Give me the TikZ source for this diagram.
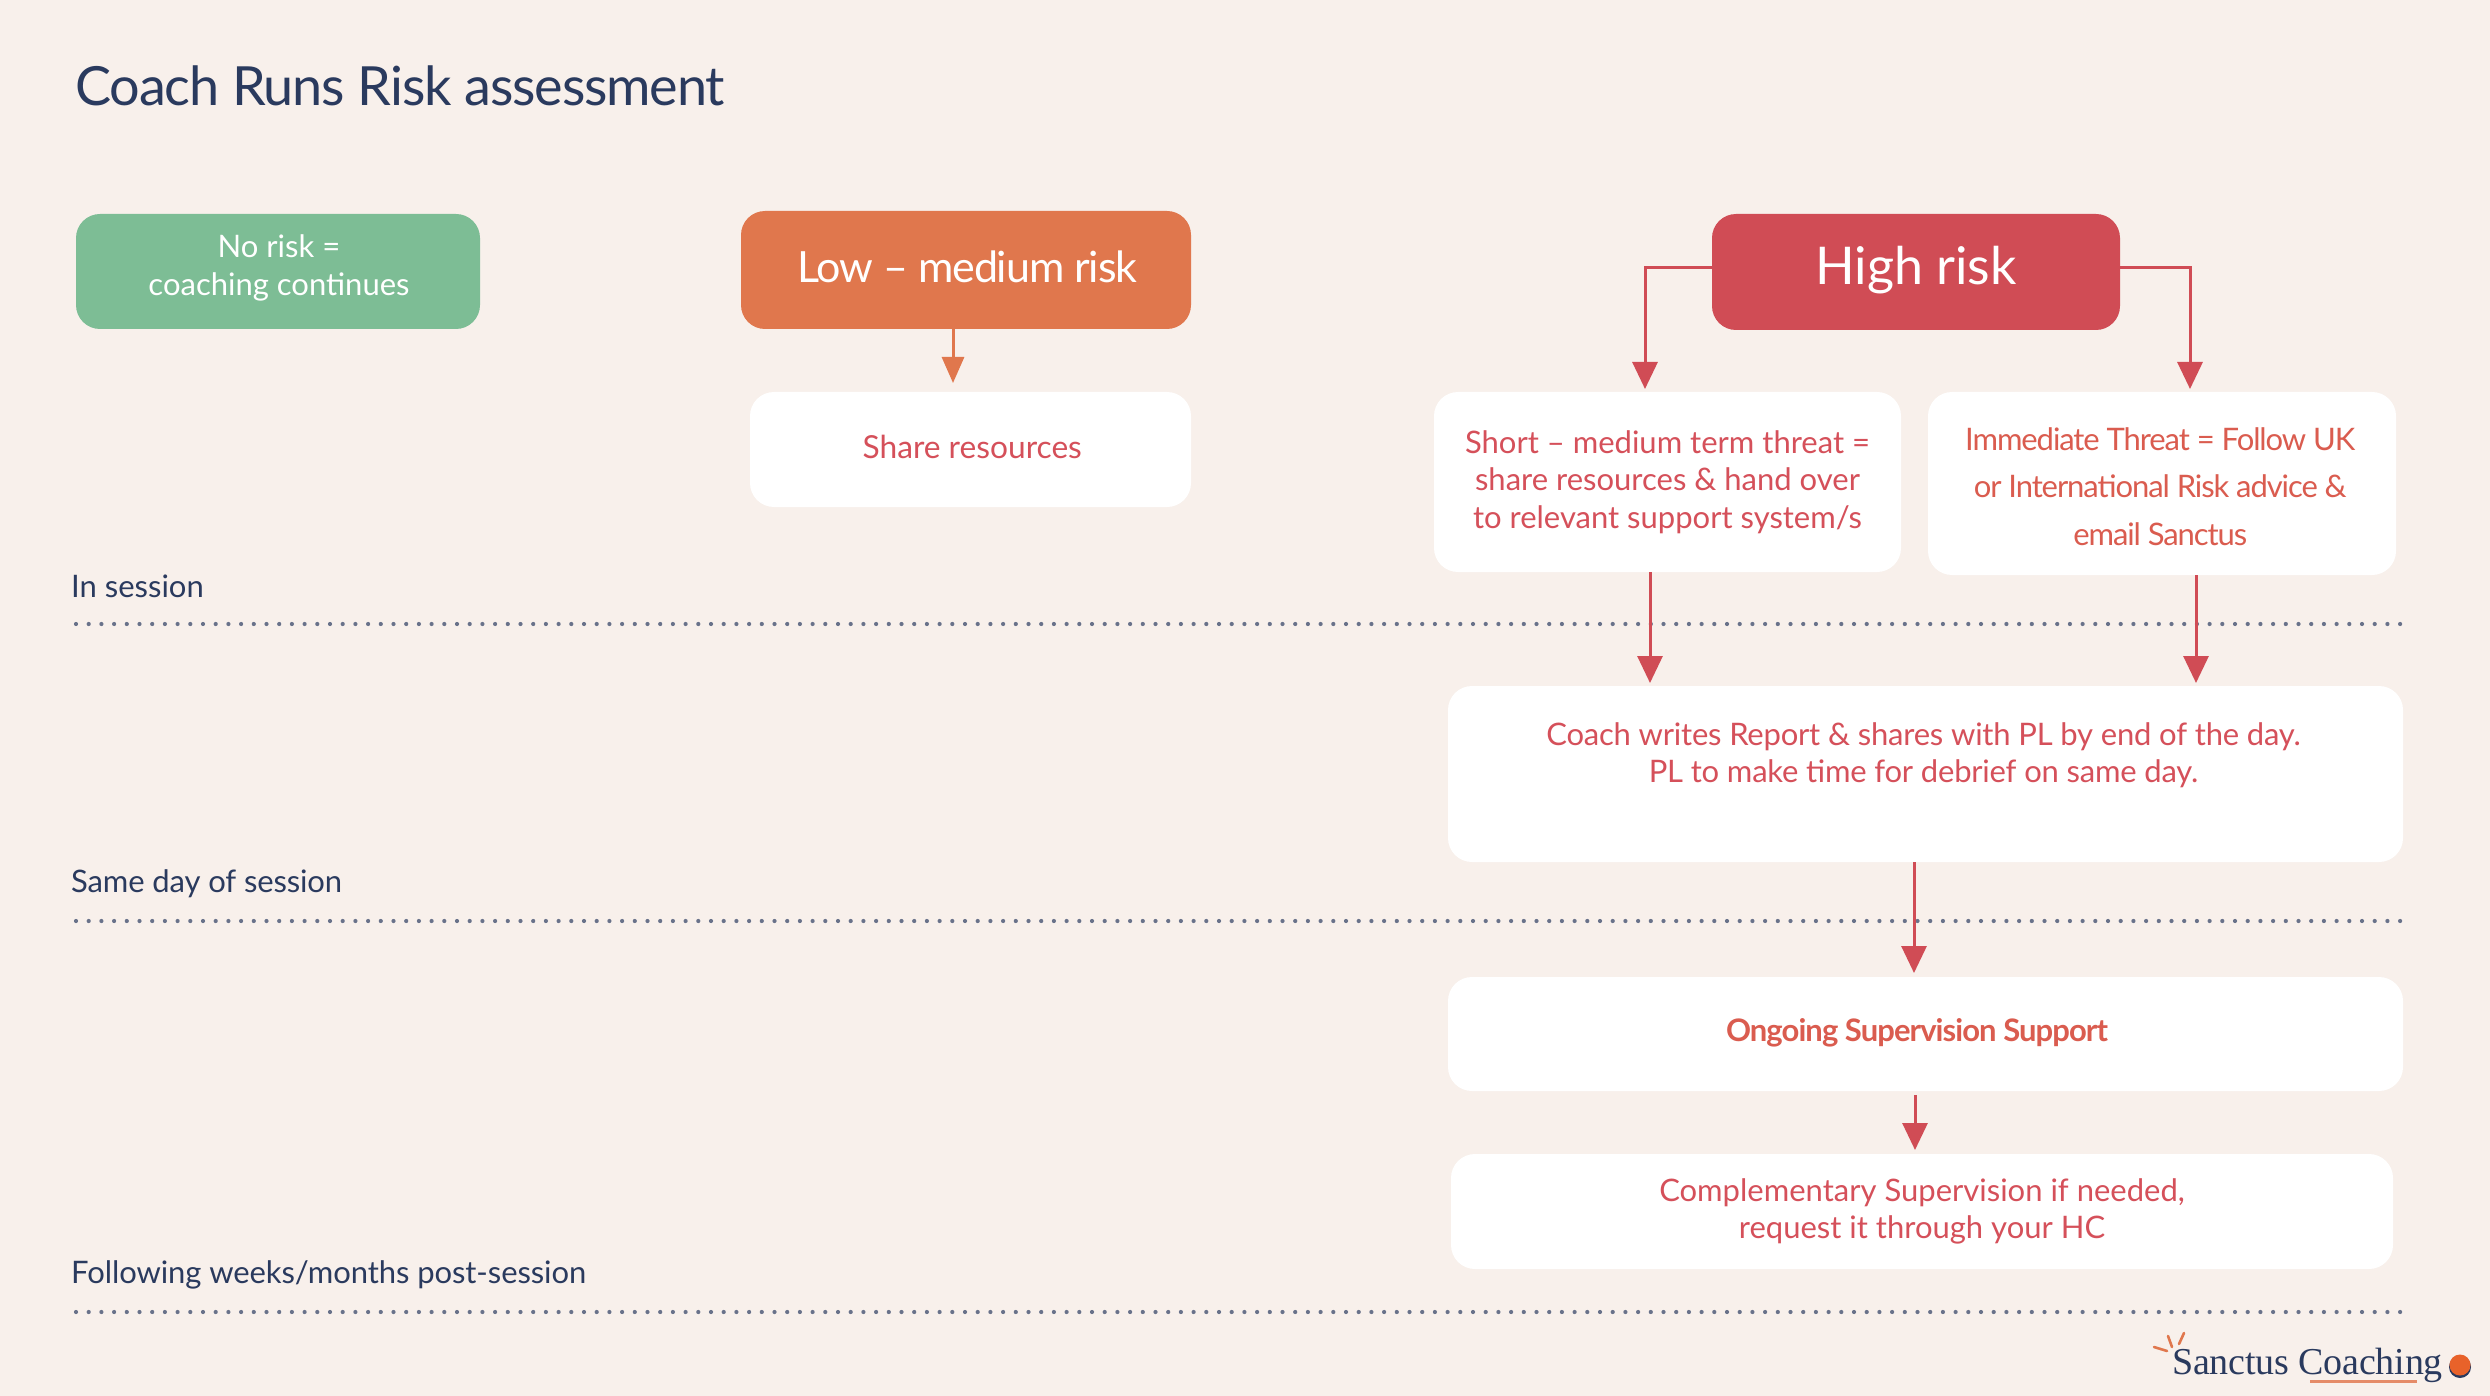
\documentclass[tikz,border=0pt]{standalone}
\usepackage{fontspec}
\usetikzlibrary{arrows.meta,calc}
\setmainfont{Lato}
\newfontfamily\logofont{Liberation Serif}
\definecolor{bgc}{HTML}{F8F0EB}
\definecolor{greenc}{HTML}{7DBD95}
\definecolor{orangec}{HTML}{E0774D}
\definecolor{redc}{HTML}{D04C55}
\definecolor{redt}{HTML}{D5505A}
\definecolor{redo}{HTML}{DA5C4F}
\definecolor{navyc}{HTML}{2A3A5E}
\definecolor{dotc}{HTML}{69728A}
\definecolor{logodot}{HTML}{E8622A}
\newcommand\bt[3]{\makebox[0pt]{\raisebox{#2}[0pt][0pt]{\hspace*{#1}\begin{tabular}[c]{@{}c@{}}#3\end{tabular}}}}
\newcommand\tight[1]{\addfontfeatures{LetterSpace=#1}}
\tikzset{
  boxbase/.style={rounded corners=24pt,inner sep=0pt,draw=none},
  whitebox/.style={boxbase,fill=white,text=redt},
  bodytxt/.style={font=\fontsize{31}{37.5}\selectfont},
  rowlabel/.style={anchor=west,inner sep=0pt,text=navyc,font=\fontsize{31}{37}\selectfont},
  dotline/.style={draw=dotc,line width=4.2pt,line cap=round,dash pattern=on 0pt off 12.7pt},
  arr/.style={draw=redc,line width=3pt,-{Triangle[width=25pt,length=27pt]}},
  arro/.style={draw=orangec,line width=3pt,-{Triangle[width=22pt,length=26pt]}}
}
\begin{document}
\begin{tikzpicture}[x=1pt,y=-1pt]
\useasboundingbox (0,0) rectangle (2490,1396);
\fill[bgc] (0,0) rectangle (2490,1396);

\node[anchor=west,inner sep=0pt,text=navyc,font=\fontsize{54}{60}\selectfont\tight{-2.1}] (title) at (75,86) {Coach Runs Risk assessment};

\node[boxbase,fill=greenc,text=white,minimum width=404pt,minimum height=115pt] (norisk) at (278,271.5)
  {\fontsize{31}{38}\selectfont\bt{2pt}{-3.5pt}{No risk =\\coaching continues}};
\node[boxbase,fill=orangec,text=white,minimum width=450pt,minimum height=118pt] (low) at (966,270)
  {\fontsize{43}{50}\selectfont\tight{-2.6}\bt{2.5pt}{-9pt}{Low – medium risk}};
\node[boxbase,fill=redc,text=white,minimum width=408pt,minimum height=116pt] (high) at (1916,272)
  {\fontsize{52}{60}\selectfont\bt{0pt}{-7pt}{High risk}};

\node[whitebox,bodytxt,minimum width=441pt,minimum height=115pt] (share) at (970.5,449.5)
  {\fontsize{31.7}{38}\selectfont\bt{3.5pt}{-7.5pt}{Share resources}};
\node[whitebox,bodytxt,minimum width=467pt,minimum height=180pt] (short) at (1667.5,482)
  {\bt{0pt}{-7.5pt}{Short – medium term threat =\\share resources \& hand over\\to relevant support system/s}};
\node[whitebox,bodytxt,text=redo,minimum width=468pt,minimum height=183pt] (immediate) at (2162,483.5)
  {\fontsize{31}{47.6}\selectfont\tight{-3.5}\bt{-3.5pt}{-11pt}{Immediate Threat = Follow UK\\or International Risk advice \&\\email Sanctus}};
\node[whitebox,bodytxt,minimum width=955pt,minimum height=176pt] (report) at (1925.5,774)
  {\tight{-0.7}\bt{-4pt}{11.5pt}{Coach writes Report \& shares with PL by end of the day.\\PL to make time for debrief on same day.}};
\node[whitebox,bodytxt,text=redo,minimum width=955pt,minimum height=114pt] (ongoing) at (1925.5,1034)
  {\bfseries\tight{-3}\bt{-17pt}{-6pt}{Ongoing Supervision Support}};
\node[whitebox,bodytxt,minimum width=942pt,minimum height=115pt] (compl) at (1922,1211.5)
  {\bt{0pt}{-7pt}{Complementary Supervision if needed,\\request it through your HC}};

\node[rowlabel] (lab1) at (71,586) {In session};
\node[rowlabel] (lab2) at (71,884) {\tight{-0.5}Same day of session};
\node[rowlabel] (lab3) at (71,1275) {\tight{-0.3}Following weeks/months post-session};

\coordinate (d1a) at (76,624); \coordinate (d1b) at (2401,624);
\coordinate (d2a) at (76,921); \coordinate (d2b) at (2401,921);
\coordinate (d3a) at (76,1312); \coordinate (d3b) at (2401,1312);
\draw[dotline] (d1a) -- (d1b);
\draw[dotline] (d2a) -- (d2b);
\draw[dotline] (d3a) -- (d3b);

\coordinate (xlow) at (953,383);
\coordinate (xhl) at (1645,389);
\coordinate (xhr) at (2190,389);
\coordinate (xsd) at (1650,683);
\coordinate (xid) at (2196,683);
\coordinate (xro) at (1914,973);
\coordinate (xoc) at (1915,1150);
\coordinate (yhigh) at (0,268);

\draw[arro] (low.south -| xlow) -- (xlow);
\draw[arr] (high.west |- yhigh) -| (xhl);
\draw[arr] (high.east |- yhigh) -| (xhr);
\draw[arr] (short.south -| xsd) -- (xsd);
\draw[arr] (immediate.south -| xid) -- (xid);
\draw[arr] (report.south -| xro) -- (xro);
\draw[arr,shorten <=4pt] (ongoing.south -| xoc) -- (xoc);

% logo
\node[anchor=west,inner sep=0pt,text=navyc,font=\logofont\fontsize{38}{40}\selectfont\tight{-0.5}] (logo) at (2172,1365) {Sanctus Coaching};
\draw[orangec,line width=2.6pt,line cap=round] (2154,1347) -- (2167,1351) (2168,1336) -- (2172,1347) (2184,1333) -- (2179,1344);
\draw[orangec!85!white,line width=3pt] (2310,1381) -- (2417,1381);
\fill[navyc] (2460,1367) circle (11pt);
\fill[logodot] (2460,1365) circle (10.5pt);
\end{tikzpicture}
\end{document}
